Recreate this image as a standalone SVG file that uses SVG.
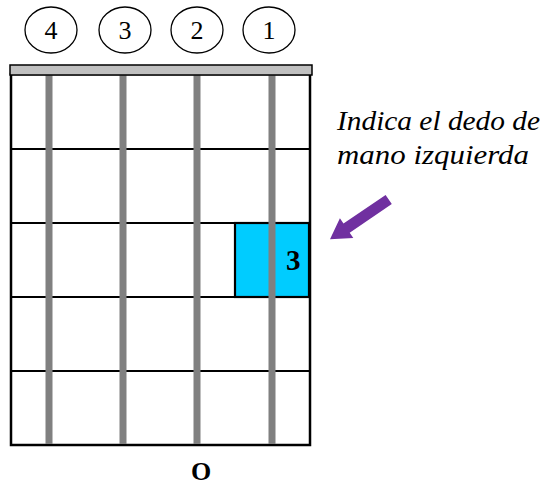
<svg xmlns="http://www.w3.org/2000/svg" width="548" height="486" viewBox="0 0 548 486">
<style>
.circ{fill:#fff;stroke:#000;stroke-width:1.3}
.num{font-family:"Liberation Serif",serif;font-size:26px;text-anchor:middle}
.fret{stroke:#000;stroke-width:2.2}
.str{stroke:#808080;stroke-width:7}
.note{font-family:"Liberation Serif",serif;font-size:28px;font-style:italic}
</style>
<rect width="548" height="486" fill="#fff"/>
<g id="string-numbers">
<ellipse class="circ" cx="51" cy="30" rx="26" ry="23"/>
<text class="num" x="51" y="39">4</text>
<ellipse class="circ" cx="125" cy="30" rx="26" ry="23"/>
<text class="num" x="125" y="39">3</text>
<ellipse class="circ" cx="197" cy="30" rx="26" ry="23"/>
<text class="num" x="197" y="39">2</text>
<ellipse class="circ" cx="269" cy="30" rx="26" ry="23"/>
<text class="num" x="269" y="39">1</text>
</g>
<g id="fretboard">
<rect x="11" y="74" width="299" height="371" fill="#fff" stroke="#000" stroke-width="2.5"/>
<line class="fret" x1="11" y1="149" x2="310" y2="149"/>
<line class="fret" x1="11" y1="223" x2="310" y2="223"/>
<line class="fret" x1="11" y1="297" x2="310" y2="297"/>
<line class="fret" x1="11" y1="371" x2="310" y2="371"/>
</g>
<g id="finger">
<rect x="235" y="223" width="74" height="74" fill="#00ccff" stroke="#000" stroke-width="2.2"/>
</g>
<g id="strings">
<line class="str" x1="49" y1="75" x2="49" y2="444"/>
<line class="str" x1="123" y1="75" x2="123" y2="444"/>
<line class="str" x1="197" y1="75" x2="197" y2="444"/>
<line class="str" x1="272" y1="75" x2="272" y2="444"/>
</g>
<g id="nut">
<rect x="10" y="65" width="302" height="10" fill="#c0c0c0" stroke="#000" stroke-width="1.5"/>
</g>
<g id="finger-label">
<text x="286" y="270" font-family="Liberation Serif,serif" font-size="29" font-weight="bold">3</text>
</g>
<g id="note">
<text class="note" x="337" y="130" textLength="203" lengthAdjust="spacingAndGlyphs">Indica el dedo de</text>
<text class="note" x="337" y="164" textLength="192" lengthAdjust="spacingAndGlyphs">mano izquierda</text>
</g>
<g id="connectors">
<polygon fill="#7030a0" points="385.6,194.9 343.5,223.5 339.9,218.2 330,239.3 353.3,238 349.7,232.7 391.8,204.1"/>
</g>
<g id="open-marker">
<text x="201" y="480" font-family="Liberation Serif,serif" font-size="26" font-weight="bold" text-anchor="middle">O</text>
</g>
</svg>
